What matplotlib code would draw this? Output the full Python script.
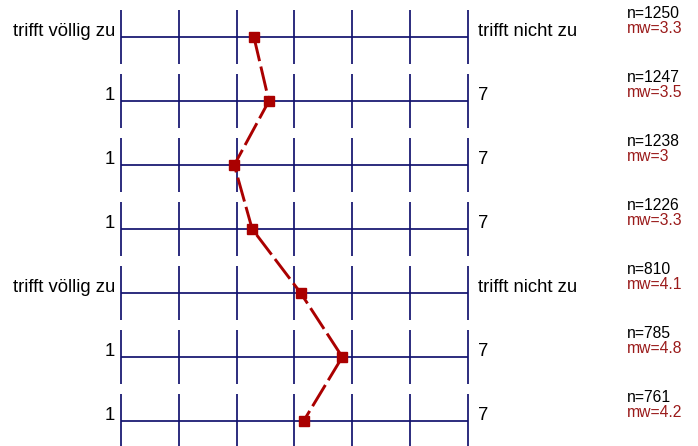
import matplotlib
matplotlib.use("Agg")
import matplotlib.pyplot as plt

plt.rcParams['font.family'] = ['Liberation Sans', 'DejaVu Sans']

# Data
left_labels = ["trifft völlig zu", "1", "1", "1", "trifft völlig zu", "1", "1"]
right_labels = ["trifft nicht zu", "7", "7", "7", "trifft nicht zu", "7", "7"]
n_values = [1250, 1247, 1238, 1226, 810, 785, 761]
mw_labels = ["3.3", "3.5", "3", "3.3", "4.1", "4.8", "4.2"]
mw_positions = [3.30, 3.56, 2.96, 3.27, 4.11, 4.83, 4.16]
scale_ticks = [1, 2, 3, 4, 5, 6, 7]

W, H, DPI = 698, 446, 100
fig = plt.figure(figsize=(W / DPI, H / DPI), dpi=DPI)
ax = fig.add_axes([0, 0, 1, 1])
ax.set_axis_off()

# pixel mapping: scale 1 -> 121 px, 7 -> 467.7 px ; row i -> 37 + 64 i px
px_per_unit = (467.7 - 121) / 6.0
x0 = 1 - 121 / px_per_unit
x1 = 1 + (W - 121) / px_per_unit
row_px = 64.0
y_top = -37 / row_px
y_bot = (H - 37) / row_px
ax.set_xlim(x0, x1)
ax.set_ylim(y_bot, y_top)

grid_col = '#12126e'
red = '#aa0000'
u = 1 / px_per_unit  # data units per pixel in x
v = 1 / row_px       # data units per pixel in y

rows = list(range(len(n_values)))
for i in rows:
    ax.hlines(i, scale_ticks[0], scale_ticks[-1], color=grid_col, lw=1.25)
    ax.vlines(scale_ticks, i - 27 * v, i + 27 * v, color=grid_col, lw=1.25)
    ax.text(scale_ticks[0] - 6 * u, i - 1 * v, left_labels[i], ha='right', va='baseline',
            fontsize=13.3, color='black')
    ax.text(scale_ticks[-1] + 10 * u, i - 1 * v, right_labels[i], ha='left', va='baseline',
            fontsize=13.3, color='black')
    ax.text(1 + (627 - 121) * u, i - 19 * v, f"n={n_values[i]}", ha='left', va='baseline',
            fontsize=11.3, color='black')
    ax.text(1 + (627 - 121) * u, i - 4 * v, f"mw={mw_labels[i]}", ha='left', va='baseline',
            fontsize=11.3, color='#9a1a1a')

ax.plot(mw_positions, rows, color=red, lw=2.1, dashes=(8.5, 1.9), marker='s',
        markersize=7.2, markerfacecolor=red, markeredgecolor=red, zorder=5)

fig.savefig('out.png', dpi=DPI)
